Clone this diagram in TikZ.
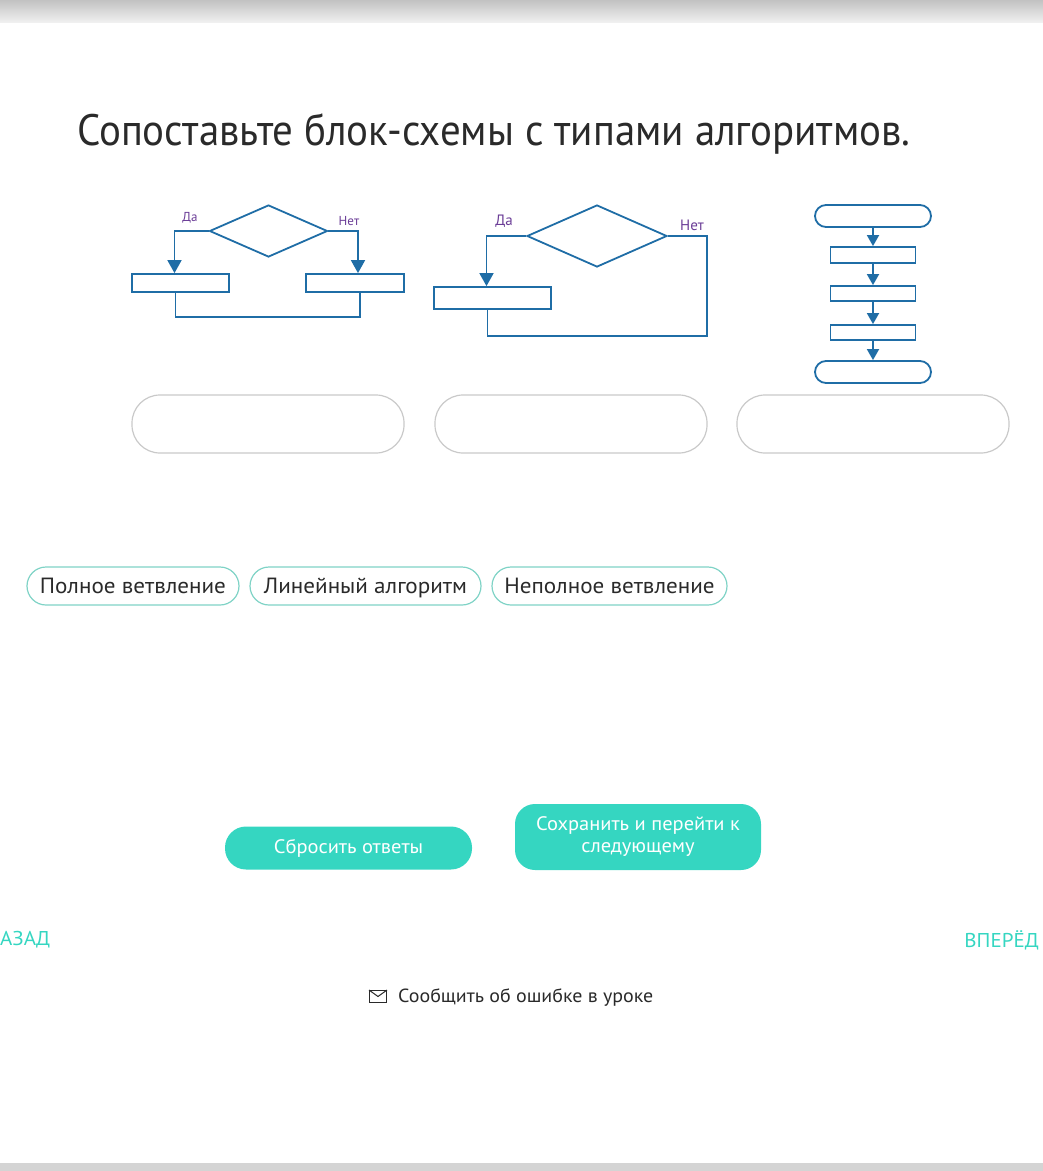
\documentclass[tikz,border=0pt]{standalone}
\usepackage{fontspec}
\setmainfont{PT Sans}
\newfontfamily\narrowfont{PT Sans}[FakeStretch=0.93]
\newfontfamily\widefont{PT Sans}[FakeStretch=1.05]
\usetikzlibrary{shapes.geometric,arrows.meta,positioning}
\definecolor{flowblue}{HTML}{1F6DA6}
\definecolor{labelpurple}{HTML}{6A3C96}
\definecolor{mint}{HTML}{35D6C1}
\definecolor{chipline}{HTML}{7FD3C6}
\definecolor{slotgrey}{HTML}{C9C9C9}
\definecolor{inkgrey}{HTML}{2A2A2A}

\begin{document}
\begin{tikzpicture}[x=1pt,y=-1pt,
    flow/.style={draw=flowblue,line width=1.8pt},
    arrow/.style={flow,-{Triangle[length=13pt,width=14pt]}},
    smallarrow/.style={flow,-{Triangle[length=11pt,width=12pt]}},
    blk/.style={flow,rectangle,inner sep=0pt},
    cond/.style={flow,diamond,inner sep=0pt},
    term/.style={flow,rectangle,rounded corners=11pt,inner sep=0pt,minimum width=116pt,minimum height=22pt},
    yesno/.style={text=labelpurple,font=\fontsize{13}{13}\selectfont},
    slot/.style={draw=slotgrey,line width=1.2pt,rounded corners=28pt,minimum width=272pt,minimum height=58pt},
    chip/.style={draw=chipline,line width=1.2pt,rounded corners=19pt,minimum height=38pt,inner sep=0pt,text height=17pt,text depth=3pt,font=\widefont\fontsize{22}{22}\selectfont,text=inkgrey},
    button/.style={fill=mint,rounded corners=21pt,text=white,align=center,inner sep=0pt,font=\widefont\fontsize{19.5}{22}\selectfont},
    navlink/.style={text=mint,font=\widefont\fontsize{20}{20}\selectfont}
  ]
    \useasboundingbox (0,0) rectangle (1043,1171);
    % page frame
    \shade[top color=black!24,bottom color=black!6] (0,0) rectangle (1043,22);
    \fill[black!17] (0,1163) rectangle (1043,1171);

    \node[anchor=base west,inner sep=0pt,text=inkgrey,font=\narrowfont\fontsize{44}{44}\selectfont] (title) at (77,145) {Сопоставьте блок-схемы с типами алгоритмов.};

    % full branching
    \node[cond,minimum width=118pt,minimum height=52pt] (d1) at (268.5,231) {};
    \node[blk,minimum width=97pt,minimum height=18pt] (b1) at (180.5,283) {};
    \node[blk,minimum width=98pt,minimum height=18pt] (b2) at (355,283) {};
    \node[yesno] (yes1) at (190,218) {Да};
    \node[yesno] (no1) at (349,221) {Нет};
    \draw[arrow] (d1.west) -| ([xshift=-6pt]b1.north);
    \draw[arrow] (d1.east) -| ([xshift=3pt]b2.north);
    \draw[flow] ([xshift=-5pt]b1.south) -- ++(0,24) -| ([xshift=5pt]b2.south);

    % partial branching
    \node[cond,minimum width=140pt,minimum height=62pt] (d2) at (597,236) {};
    \node[blk,minimum width=117pt,minimum height=22pt] (b3) at (492.5,298) {};
    \node[yesno,font=\fontsize{15}{15}\selectfont] (yes2) at (504,221) {Да};
    \node[yesno,font=\fontsize{15}{15}\selectfont] (no2) at (692,225) {Нет};
    \draw[arrow] (d2.west) -| ([xshift=-6pt]b3.north);
    \draw[flow] (d2.east) -- ++(39,0) -- ++(0,100) -| ([xshift=-5pt]b3.south);

    % linear
    \node[term] (t1) at (873,216) {};
    \node[blk,minimum width=85pt,minimum height=16pt] (s1) at (873,255) {};
    \node[blk,minimum width=85pt,minimum height=15pt] (s2) at (873,293.5) {};
    \node[blk,minimum width=85pt,minimum height=15pt] (s3) at (873,332.5) {};
    \node[term] (t2) at (873,372) {};
    \draw[smallarrow] (t1) -- (s1);
    \draw[smallarrow] (s1) -- (s2);
    \draw[smallarrow] (s2) -- (s3);
    \draw[smallarrow] (s3) -- (t2);

    % answer slots
    \node[slot] (slot1) at (268,424) {};
    \node[slot] (slot2) at (571,424) {};
    \node[slot] (slot3) at (873,424) {};

    % choices
    \node[chip,minimum width=212pt] (full) at (133,586) {Полное ветвление};
    \node[chip,minimum width=231pt] (linear) at (365.5,586) {Линейный алгоритм};
    \node[chip,minimum width=235pt] (partial) at (609.5,586) {Неполное ветвление};

    % buttons
    \node[button,minimum width=247pt,minimum height=43pt] (reset) at (348.5,848) {Сбросить ответы};
    \node[button,minimum width=246pt,minimum height=66pt,rounded corners=20pt] (save) at (638,837) {Сохранить и перейти к\\следующему};

    \node[navlink,anchor=west,inner sep=0pt] (back) at (0,940) {АЗАД};
    \node[navlink,anchor=east,inner sep=0pt] (next) at (1039,940) {ВПЕРЁД};

    \node[draw=inkgrey,line width=1pt,minimum width=17pt,minimum height=12pt,inner sep=0pt] (mail) at (378,996.5) {};
    \draw[inkgrey,line width=1pt] (mail.north west) -- (mail.center) -- (mail.north east);
    \node[anchor=west,inner sep=0pt,text=inkgrey,font=\widefont\fontsize{19}{19}\selectfont] (report) at (398,998) {Сообщить об ошибке в уроке};
  \end{tikzpicture}
\end{document}
